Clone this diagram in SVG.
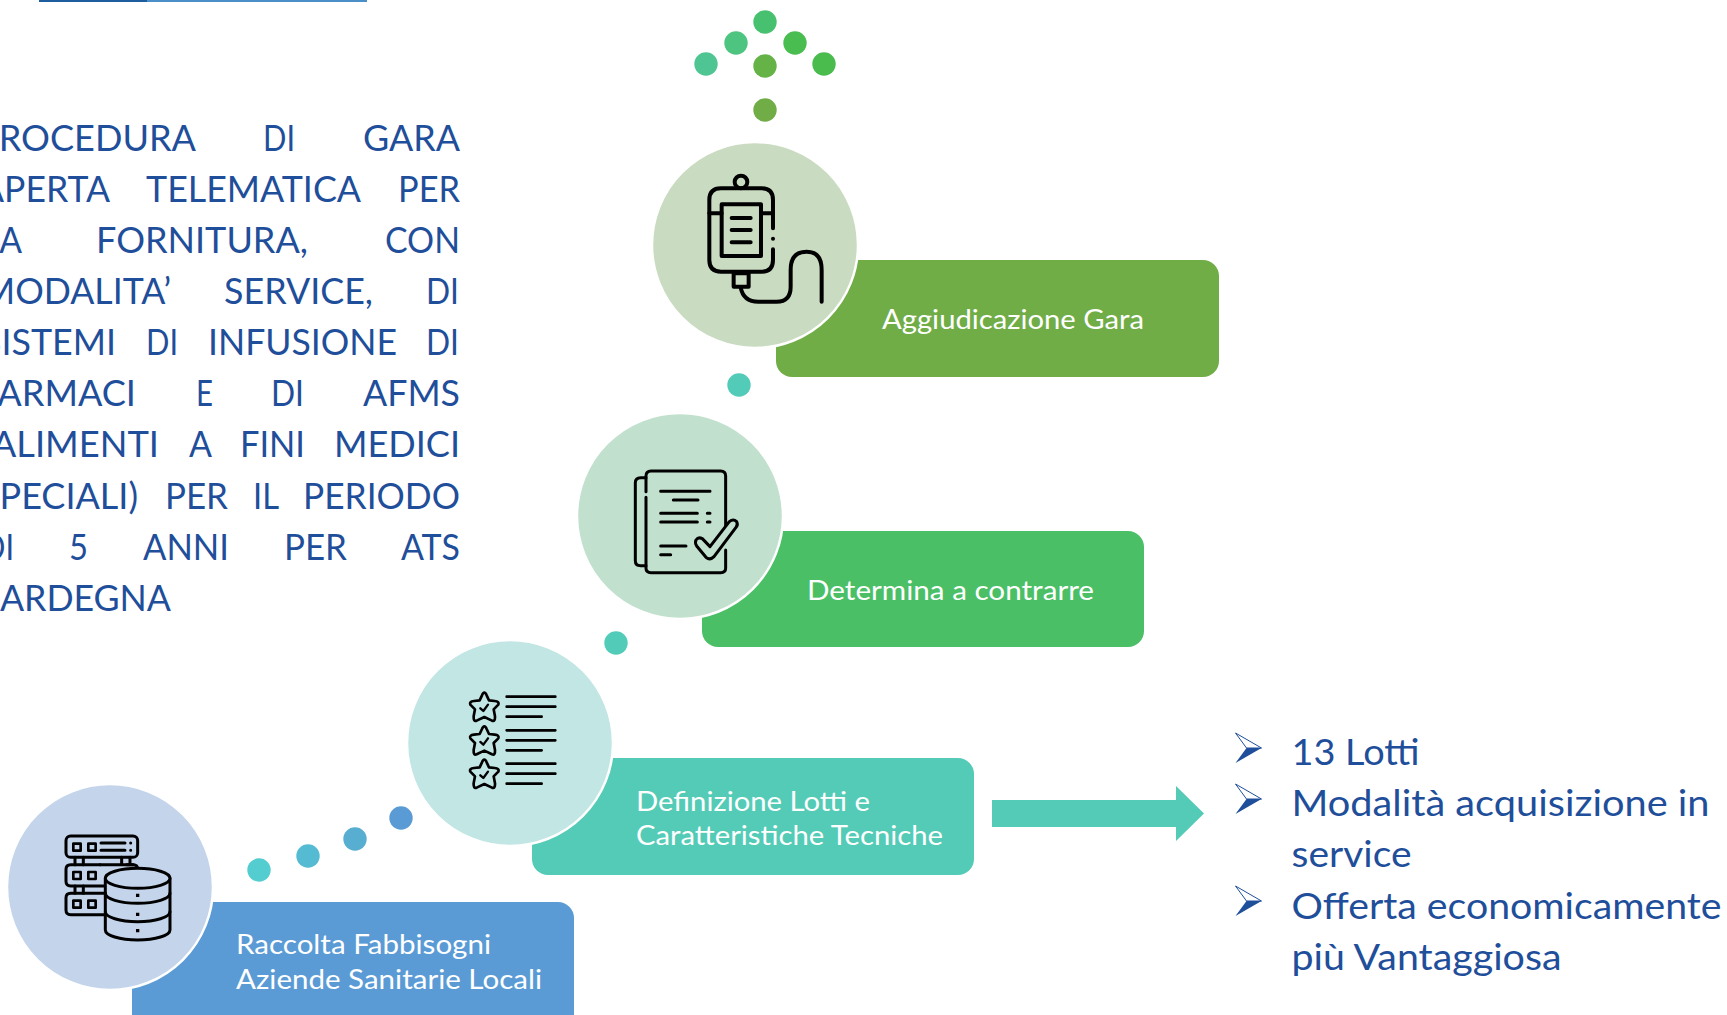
<svg xmlns="http://www.w3.org/2000/svg" xmlns:xlink="http://www.w3.org/1999/xlink" width="1727" height="1015" viewBox="0 0 1727 1015">
<style>
text{font-family:"Lato","Carlito","Open Sans",sans-serif}
.b{font-size:36px;fill:#1F4E9A}
.l{font-size:27px;fill:#fff}
.ic{fill:none;stroke:#000;stroke-linecap:round;stroke-linejoin:round}
.ring{stroke:#fff;stroke-width:2.5}
</style>
<defs>
<g id="bullet"><path d="M0 0L26 15H11Z" fill="#fff" stroke="#1F4E9A" stroke-width="1"/><path d="M0 30L26 15H11Z" fill="#1F4E9A"/></g>
<g id="star"><path class="ic" stroke-width="8" d="M0-44Q4-44 7-36L14-21 31-19Q46-17 42-8L28 6 32 27Q33 44 23 40L0 29-23 40Q-33 44-32 27L-28 6-42-8Q-46-17-31-19L-14-21-7-36Q-4-44 0-44Z"/><path class="ic" stroke-width="7" d="M-12 3L-3 11 11-8"/></g>
<g id="srow"><rect class="ic" stroke-width="8" x="220" y="0" width="22" height="21"/><rect class="ic" stroke-width="8" x="265" y="0" width="22" height="21"/></g>
</defs>
<rect width="1727" height="1015" fill="#fff"/>
<rect x="39" y="0" width="108" height="2" fill="#1F5E9E"/><rect x="147" y="0" width="220" height="2" fill="#4A8FC8"/>

<g id="description">
<text class="b" y="151"><tspan x="-23" textLength="219" lengthAdjust="spacingAndGlyphs">PROCEDURA</tspan><tspan x="263" textLength="32" lengthAdjust="spacingAndGlyphs">DI</tspan><tspan x="363" textLength="97" lengthAdjust="spacingAndGlyphs">GARA</tspan></text>
<text class="b" y="202"><tspan x="-20" textLength="130" lengthAdjust="spacingAndGlyphs">APERTA</tspan><tspan x="146" textLength="215" lengthAdjust="spacingAndGlyphs">TELEMATICA</tspan><tspan x="398" textLength="62" lengthAdjust="spacingAndGlyphs">PER</tspan></text>
<text class="b" y="253"><tspan x="-18" textLength="40" lengthAdjust="spacingAndGlyphs">LA</tspan><tspan x="96" textLength="212" lengthAdjust="spacingAndGlyphs">FORNITURA,</tspan><tspan x="385" textLength="75" lengthAdjust="spacingAndGlyphs">CON</tspan></text>
<text class="b" y="304"><tspan x="-18" textLength="189" lengthAdjust="spacingAndGlyphs">MODALITA’</tspan><tspan x="224" textLength="149" lengthAdjust="spacingAndGlyphs">SERVICE,</tspan><tspan x="426" textLength="33" lengthAdjust="spacingAndGlyphs">DI</tspan></text>
<text class="b" y="355"><tspan x="-18" textLength="134" lengthAdjust="spacingAndGlyphs">SISTEMI</tspan><tspan x="146" textLength="32" lengthAdjust="spacingAndGlyphs">DI</tspan><tspan x="208" textLength="189" lengthAdjust="spacingAndGlyphs">INFUSIONE</tspan><tspan x="426" textLength="33" lengthAdjust="spacingAndGlyphs">DI</tspan></text>
<text class="b" y="406"><tspan x="-21" textLength="157" lengthAdjust="spacingAndGlyphs">FARMACI</tspan><tspan x="196" textLength="17" lengthAdjust="spacingAndGlyphs">E</tspan><tspan x="271" textLength="33" lengthAdjust="spacingAndGlyphs">DI</tspan><tspan x="363" textLength="97" lengthAdjust="spacingAndGlyphs">AFMS</tspan></text>
<text class="b" y="457"><tspan x="-18" textLength="177" lengthAdjust="spacingAndGlyphs">(ALIMENTI</tspan><tspan x="189" textLength="23" lengthAdjust="spacingAndGlyphs">A</tspan><tspan x="240" textLength="65" lengthAdjust="spacingAndGlyphs">FINI</tspan><tspan x="334" textLength="126" lengthAdjust="spacingAndGlyphs">MEDICI</tspan></text>
<text class="b" y="509"><tspan x="-20" textLength="158" lengthAdjust="spacingAndGlyphs">SPECIALI)</tspan><tspan x="165" textLength="63" lengthAdjust="spacingAndGlyphs">PER</tspan><tspan x="253" textLength="26" lengthAdjust="spacingAndGlyphs">IL</tspan><tspan x="303" textLength="157" lengthAdjust="spacingAndGlyphs">PERIODO</tspan></text>
<text class="b" y="560"><tspan x="-18" textLength="32" lengthAdjust="spacingAndGlyphs">DI</tspan><tspan x="69" textLength="19" lengthAdjust="spacingAndGlyphs">5</tspan><tspan x="143" textLength="86" lengthAdjust="spacingAndGlyphs">ANNI</tspan><tspan x="284" textLength="63" lengthAdjust="spacingAndGlyphs">PER</tspan><tspan x="401" textLength="59" lengthAdjust="spacingAndGlyphs">ATS</tspan></text>
<text class="b" y="611"><tspan x="-19" textLength="190" lengthAdjust="spacingAndGlyphs">SARDEGNA</tspan></text>
</g>

<g id="connectors">
<circle cx="765" cy="22" r="11.7" fill="#47C16F"/>
<circle cx="736" cy="43" r="11.7" fill="#4DC47F"/>
<circle cx="795" cy="43" r="11.7" fill="#49BD4F"/>
<circle cx="706" cy="64" r="11.7" fill="#4EC592"/>
<circle cx="765" cy="66" r="11.7" fill="#65B246"/>
<circle cx="824" cy="64" r="11.7" fill="#4ABB4D"/>
<circle cx="765" cy="110" r="11.7" fill="#70AD47"/>
<circle cx="739" cy="385" r="11.7" fill="#52CBB8"/>
<circle cx="616" cy="643" r="11.7" fill="#52CBB8"/>
<circle cx="401" cy="818" r="11.7" fill="#5B9BD5"/>
<circle cx="355" cy="839" r="11.7" fill="#57AED0"/>
<circle cx="308" cy="856" r="11.7" fill="#55BBD2"/>
<circle cx="259" cy="870" r="11.7" fill="#54CDD0"/>
<path d="M992 800H1176V786L1204 813.5 1176 841V827H992Z" fill="#53CBB6"/>
</g>

<g id="node-aggiudicazione">
<rect x="776" y="260" width="443" height="117" rx="16" fill="#70AD47"/>
<circle class="ring" cx="755" cy="245" r="103" fill="#C9DBC1"/>
<g transform="translate(620 0) scale(.3333)" class="ic" stroke-width="12">
<circle cx="363" cy="546" r="19"/>
<path d="M459 685V600Q459 565 425 565H303Q268 565 268 600V780Q268 815 303 815H425Q459 815 459 780V748"/>
<path d="M459 716h.1"/>
<rect x="305" y="613" width="118" height="155" stroke-linecap="butt"/>
<path d="M335 654H392M335 690H392M335 727H392M268 640H305M423 640H459"/>
<rect x="341" y="820" width="45" height="40"/>
<path d="M362 862Q370 905 415 905H470Q512 905 512 860V810Q512 755 560 755Q605 755 605 810V905"/>
</g>
<text class="l" x="882" y="329" textLength="262" lengthAdjust="spacingAndGlyphs">Aggiudicazione Gara</text>
</g>

<g id="node-determina">
<rect x="702" y="531" width="442" height="116" rx="16" fill="#4ABF66"/>
<circle class="ring" cx="680" cy="516" r="103" fill="#C2E0CE"/>
<g transform="translate(570 400) scale(.3333)" class="ic" stroke-width="9">
<path d="M228 275V228Q228 213 243 213H452Q467 213 467 228V378"/>
<path d="M467 450V505Q467 518 452 518H243Q228 518 228 505V292"/>
<path d="M228 233H212Q196 233 196 248V482Q196 497 212 497H228"/>
<path d="M272 274H420M310 300H384M272 340H382M412 340H420M272 366H382M412 366H420M272 438H348M272 464H302"/>
<path fill="#C2E0CE" d="M378 420Q385 410 397 416L420 440 478 365Q490 355 500 365Q505 375 498 382L432 470Q420 482 408 472L380 438Q374 428 378 420Z"/>
</g>
<text class="l" x="807" y="600" textLength="287" lengthAdjust="spacingAndGlyphs">Determina a contrarre</text>
</g>

<g id="node-definizione">
<rect x="532" y="758" width="442" height="117" rx="16" fill="#53CBB6"/>
<circle class="ring" cx="510" cy="743" r="103" fill="#C1E6E4"/>
<g transform="translate(400 630) scale(.3333)">
<use href="#star" x="253" y="232"/><use href="#star" x="253" y="333"/><use href="#star" x="253" y="433"/>
<path class="ic" stroke-width="8" d="M320 200H466M320 230H466M320 260H425M320 301H466M320 331H466M320 361H425M320 401H466M320 431H466M320 461H425"/>
</g>
<text class="l" x="636" y="811" textLength="234" lengthAdjust="spacingAndGlyphs">Definizione Lotti e</text>
<text class="l" x="636" y="845" textLength="307" lengthAdjust="spacingAndGlyphs">Caratteristiche Tecniche</text>
</g>

<g id="node-raccolta">
<rect x="132" y="902" width="442" height="130" rx="16" fill="#5B9BD5"/>
<circle class="ring" cx="110" cy="887" r="103" fill="#C3D4EB"/>
<g transform="translate(0 770) scale(.3333)">
<g class="ic" stroke-width="9">
<rect x="198" y="198" width="215" height="64" rx="14"/>
<path d="M300 284H212Q198 284 198 298V334Q198 348 212 348H320M380 284H400Q413 284 413 298V310"/>
<path d="M320 370H212Q198 370 198 384V420Q198 434 212 434H316"/>
<path d="M225 262V284M250 262V284M365 262V284M390 262V284M225 348V370M250 348V370M300 284H400"/>
<path d="M303 219H375M303 241H375M392 219h.1M392 241h.1"/>
</g>
<use href="#srow" y="221"/><use href="#srow" y="306"/><use href="#srow" y="392"/>
<g class="ic" stroke-width="9">
<path fill="#C3D4EB" d="M316 325V480A97 30 0 0 0 510 480V325Z"/>
<ellipse cx="413" cy="325" rx="97" ry="30" fill="#C3D4EB"/>
<path d="M316 370A97 30 0 0 0 510 370M316 425A97 30 0 0 0 510 425"/>
</g>
<path d="M408 371h10v10h-10zM408 428h10v10h-10zM408 477h10v10h-10z" fill="#000"/>
</g>
<text class="l" x="236" y="954" textLength="255" lengthAdjust="spacingAndGlyphs">Raccolta Fabbisogni</text>
<text class="l" x="236" y="989" textLength="306" lengthAdjust="spacingAndGlyphs">Aziende Sanitarie Locali</text>
</g>

<g id="list">
<use href="#bullet" x="1235.5" y="733"/><use href="#bullet" x="1235.5" y="784"/><use href="#bullet" x="1235.5" y="886"/>
<text class="b" x="1291.5" y="765" textLength="128" lengthAdjust="spacingAndGlyphs">13 Lotti</text>
<text class="b" x="1291.5" y="816" textLength="418" lengthAdjust="spacingAndGlyphs">Modalità acquisizione in</text>
<text class="b" x="1291.5" y="867" textLength="120" lengthAdjust="spacingAndGlyphs">service</text>
<text class="b" x="1291.5" y="919" textLength="430" lengthAdjust="spacingAndGlyphs">Offerta economicamente</text>
<text class="b" x="1291.5" y="970" textLength="270" lengthAdjust="spacingAndGlyphs">più Vantaggiosa</text>
</g>
</svg>
